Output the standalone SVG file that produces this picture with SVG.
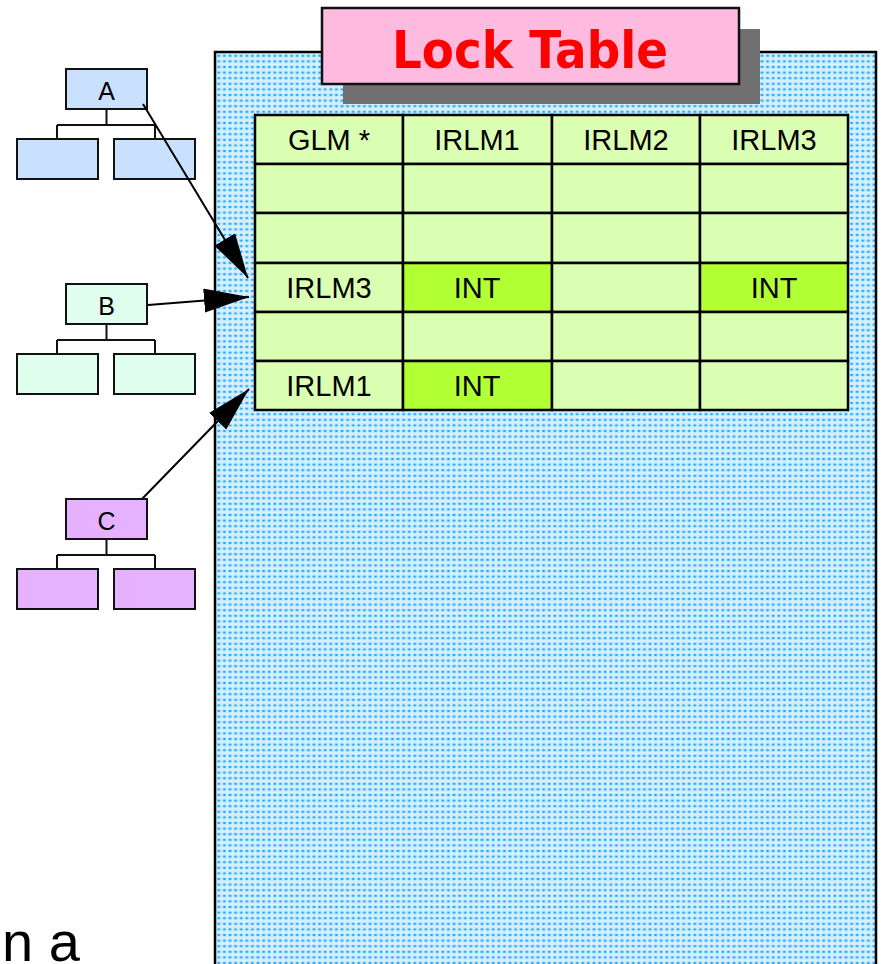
<svg xmlns="http://www.w3.org/2000/svg" width="881" height="964" viewBox="0 0 881 964">
<style>
.tx{font-family:"Liberation Sans",Arial,sans-serif;fill:#000;text-anchor:middle}
.cell{fill:#daffb2;stroke:#000;stroke-width:2.5}
.int{fill:#b2ff33;stroke:#000;stroke-width:2.5}
.tb{stroke:#111;stroke-width:2}
.ln{fill:none;stroke:#111;stroke-width:2}
.conn{fill:none;stroke:#000;stroke-width:2}
</style>
<defs>
<pattern id="dots" patternUnits="userSpaceOnUse" x="216" y="53" width="5.6" height="5.6">
<rect width="5.6" height="5.6" fill="#d6efff"/>
<rect x="1.4" y="1.7" width="2.8" height="2.2" fill="#22acff"/>
</pattern>
<marker id="ah" markerUnits="userSpaceOnUse" markerWidth="46" markerHeight="26" refX="45" refY="12" orient="auto">
<path d="M0,0 L45,12 L0,24 z" fill="#000"/>
</marker>
</defs>
<rect width="881" height="964" fill="#fff"/>
<g id="panel">
<rect x="215" y="52" width="661" height="940" fill="url(#dots)" stroke="#000" stroke-width="2.5"/>
</g>
<g id="title">
<rect x="343" y="29" width="417" height="75" fill="#707070"/>
<rect x="322" y="8" width="417" height="76" fill="#ffbae0" stroke="#111" stroke-width="2.5"/>
<text x="530" y="68" font-family="'DejaVu Sans',sans-serif" font-weight="bold" font-size="52" fill="#ff0000" text-anchor="middle" textLength="276" lengthAdjust="spacingAndGlyphs">Lock Table</text>
</g>
<g id="table">
<rect class="cell" x="255" y="115" width="148" height="49"/>
<rect class="cell" x="403" y="115" width="149" height="49"/>
<rect class="cell" x="552" y="115" width="148" height="49"/>
<rect class="cell" x="700" y="115" width="148" height="49"/>
<rect class="cell" x="255" y="164" width="148" height="49"/>
<rect class="cell" x="403" y="164" width="149" height="49"/>
<rect class="cell" x="552" y="164" width="148" height="49"/>
<rect class="cell" x="700" y="164" width="148" height="49"/>
<rect class="cell" x="255" y="213" width="148" height="50"/>
<rect class="cell" x="403" y="213" width="149" height="50"/>
<rect class="cell" x="552" y="213" width="148" height="50"/>
<rect class="cell" x="700" y="213" width="148" height="50"/>
<rect class="cell" x="255" y="263" width="148" height="49"/>
<rect class="int" x="403" y="263" width="149" height="49"/>
<rect class="cell" x="552" y="263" width="148" height="49"/>
<rect class="int" x="700" y="263" width="148" height="49"/>
<rect class="cell" x="255" y="312" width="148" height="49"/>
<rect class="cell" x="403" y="312" width="149" height="49"/>
<rect class="cell" x="552" y="312" width="148" height="49"/>
<rect class="cell" x="700" y="312" width="148" height="49"/>
<rect class="cell" x="255" y="361" width="148" height="49"/>
<rect class="int" x="403" y="361" width="149" height="49"/>
<rect class="cell" x="552" y="361" width="148" height="49"/>
<rect class="cell" x="700" y="361" width="148" height="49"/>
<text class="tx" font-size="29" x="329" y="150">GLM *</text>
<text class="tx" font-size="29" x="477" y="150">IRLM1</text>
<text class="tx" font-size="29" x="626" y="150">IRLM2</text>
<text class="tx" font-size="29" x="774" y="150">IRLM3</text>
<text class="tx" font-size="29" x="329" y="298">IRLM3</text>
<text class="tx" font-size="29" x="477" y="298">INT</text>
<text class="tx" font-size="29" x="774" y="298">INT</text>
<text class="tx" font-size="29" x="329" y="396">IRLM1</text>
<text class="tx" font-size="29" x="477" y="396">INT</text>
</g>
<g id="treeA">
<path class="ln" d="M106.5,109 V125 M57,125 H155 M57,125 V139 M155,125 V139"/>
<rect class="tb" x="66" y="69" width="81" height="40" fill="#c9e1ff"/>
<rect class="tb" x="17" y="139" width="81" height="40" fill="#c9e1ff"/>
<rect class="tb" x="114" y="139" width="81" height="40" fill="#c9e1ff"/>
<text class="tx" font-size="25" x="106.5" y="100">A</text>
</g>
<g id="treeB">
<path class="ln" d="M106.5,324 V340 M57,340 H155 M57,340 V354 M155,340 V354"/>
<rect class="tb" x="66" y="284" width="81" height="40" fill="#e0ffee"/>
<rect class="tb" x="17" y="354" width="81" height="40" fill="#e0ffee"/>
<rect class="tb" x="114" y="354" width="81" height="40" fill="#e0ffee"/>
<text class="tx" font-size="25" x="106.5" y="315">B</text>
</g>
<g id="treeC">
<path class="ln" d="M106.5,539 V555 M57,555 H155 M57,555 V569 M155,555 V569"/>
<rect class="tb" x="66" y="499" width="81" height="40" fill="#e6b2ff"/>
<rect class="tb" x="17" y="569" width="81" height="40" fill="#e6b2ff"/>
<rect class="tb" x="114" y="569" width="81" height="40" fill="#e6b2ff"/>
<text class="tx" font-size="25" x="106.5" y="530">C</text>
</g>
<g id="connectors">
<line class="conn" x1="143" y1="104" x2="248" y2="278" marker-end="url(#ah)"/>
<line class="conn" x1="148" y1="305" x2="249" y2="297" marker-end="url(#ah)"/>
<line class="conn" x1="142" y1="499" x2="249" y2="389" marker-end="url(#ah)"/>
</g>
<text x="2" y="961" font-family="'Liberation Sans',Arial,sans-serif" font-size="56" fill="#000">n a</text>
</svg>
